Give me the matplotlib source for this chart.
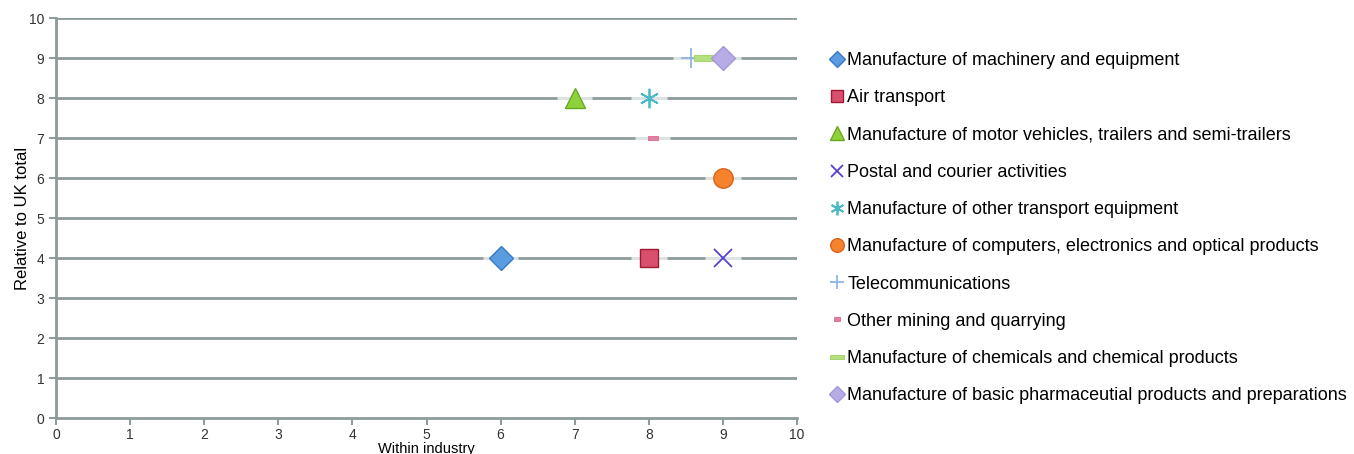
import matplotlib
matplotlib.use("Agg")
import matplotlib.pyplot as plt

plt.rcParams["font.family"] = ["Liberation Sans", "DejaVu Sans"]

industries = [
    "Manufacture of machinery and equipment",
    "Air transport",
    "Manufacture of motor vehicles, trailers and semi-trailers",
    "Postal and courier activities",
    "Manufacture of other transport equipment",
    "Manufacture of computers, electronics and optical products",
    "Telecommunications",
    "Other mining and quarrying",
    "Manufacture of chemicals and chemical products",
    "Manufacture of basic pharmaceutial products and preparations",
]
within_industry = [6, 8, 7, 9, 8, 9, 8.57, 8.05, 8.75, 9]
relative_uk = [4, 4, 8, 4, 8, 6, 9, 7, 9, 9]

# marker, size, face colour, edge colour, edge width
rect_small = [(-1, -0.45), (1, -0.45), (1, 0.45), (-1, 0.45), (-1, -0.45)]
rect_long = [(-1, -0.3), (1, -0.3), (1, 0.3), (-1, 0.3), (-1, -0.3)]
styles = [
    ("D", 12, "#5b9bdf", "#3a78c8", 1.0),
    ("s", 13, "#d9506e", "#a01830", 1.0),
    ("^", 15, "#8fd13a", "#6aa821", 1.0),
    ("x", 13, "#5a3fd0", "#5a3fd0", 1.3),
    ((6, 2, 0), 14, "#4bbac6", "#4bbac6", 1.3),
    ("o", 14, "#f7822e", "#d9641a", 1.0),
    ("+", 14, "#8fb4e3", "#8fb4e3", 1.3),
    (rect_small, 7, "#e37fa0", "#d66a8d", 0.6),
    (rect_long, 15, "#b4e07e", "#9ccf62", 0.6),
    ("D", 12, "#b8ace6", "#a596d8", 1.0),
]

grid_col = "#8d9b9b"

fig = plt.figure(figsize=(13.54, 4.54), dpi=100)
ax = fig.add_axes([56 / 1354, 36 / 454, 741 / 1354, 400 / 454])

for y in range(1, 11):
    ax.axhline(y, color=grid_col, lw=2, zorder=1)

handles = []
for x, y, name, (m, ms, fc, ec, ew) in zip(within_industry, relative_uk, industries, styles):
    # light halo segment behind each point
    ax.plot([x - 0.24, x + 0.24], [y, y], color="#dde3e3", lw=2.2, zorder=2,
            solid_capstyle="butt")
    h, = ax.plot([x], [y], linestyle="none", marker=m, markersize=ms,
                 markerfacecolor=fc, markeredgecolor=ec, markeredgewidth=ew,
                 zorder=3, label=name)
    handles.append(h)

ax.set_xlim(0, 10)
ax.set_ylim(0, 10)
ax.set_xticks(range(0, 11))
ax.set_yticks(range(0, 11))
for side in ["top", "right"]:
    ax.spines[side].set_visible(False)
for side in ["left", "bottom"]:
    ax.spines[side].set_color(grid_col)
    ax.spines[side].set_linewidth(2)
ax.tick_params(colors=grid_col, labelcolor="#333333", labelsize=10, length=5, width=1.5)
ax.tick_params(axis="x", pad=2)

ax.set_xlabel("Within industry", fontsize=10.5, labelpad=0)
ax.set_ylabel("Relative to UK total", fontsize=12, labelpad=-1)

fig.legend(handles=handles, loc="upper left", bbox_to_anchor=(824 / 1354, 1 - 45 / 454),
           frameon=False, fontsize=13, markerscale=0.7, handlelength=0.6,
           handletextpad=0.3, labelspacing=1.12, borderaxespad=0)

fig.savefig("out.png", dpi=100)
